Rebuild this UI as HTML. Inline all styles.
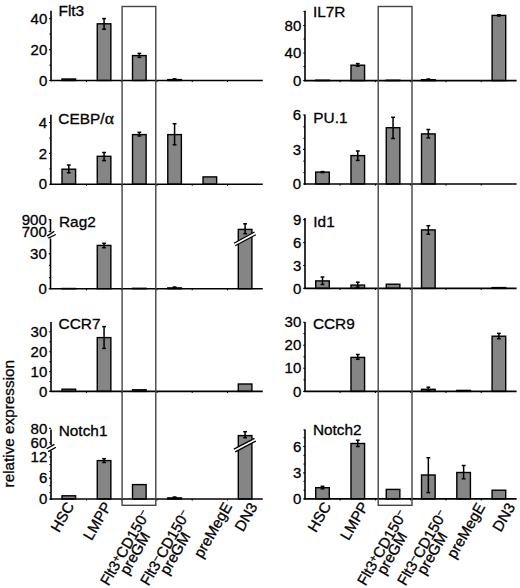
<!DOCTYPE html><html><head><meta charset="utf-8"><style>html,body{margin:0;padding:0;background:#fff;overflow:hidden;}svg{display:block;}</style></head><body>
<svg width="520" height="588" viewBox="0 0 520 588" font-family='"Liberation Sans", sans-serif'>
<style>text{stroke:#000;stroke-width:0.3;paint-order:stroke;}</style>
<rect width="520" height="588" fill="#fff"/>
<rect x="62.00" y="79.00" width="13.60" height="1.50" fill="#858585" stroke="#000" stroke-width="1.4"/>
<rect x="97.26" y="23.80" width="13.60" height="56.70" fill="#858585" stroke="#000" stroke-width="1.4"/>
<line x1="104.06" y1="18.60" x2="104.06" y2="29.20" stroke="#000" stroke-width="1.5"/>
<line x1="102.16" y1="18.60" x2="105.96" y2="18.60" stroke="#000" stroke-width="1.5"/>
<line x1="102.16" y1="29.20" x2="105.96" y2="29.20" stroke="#000" stroke-width="1.5"/>
<rect x="132.52" y="55.60" width="13.60" height="24.90" fill="#858585" stroke="#000" stroke-width="1.4"/>
<line x1="139.32" y1="53.40" x2="139.32" y2="57.40" stroke="#000" stroke-width="1.5"/>
<line x1="137.42" y1="53.40" x2="141.22" y2="53.40" stroke="#000" stroke-width="1.5"/>
<line x1="137.42" y1="57.40" x2="141.22" y2="57.40" stroke="#000" stroke-width="1.5"/>
<rect x="167.78" y="79.60" width="13.60" height="0.90" fill="#858585" stroke="#000" stroke-width="1.4"/>
<line x1="174.58" y1="78.80" x2="174.58" y2="79.80" stroke="#000" stroke-width="1.5"/>
<line x1="172.68" y1="78.80" x2="176.48" y2="78.80" stroke="#000" stroke-width="1.5"/>
<line x1="172.68" y1="79.80" x2="176.48" y2="79.80" stroke="#000" stroke-width="1.5"/>
<line x1="51.00" y1="10.80" x2="51.00" y2="81.20" stroke="#000" stroke-width="1.6"/>
<line x1="50.30" y1="80.50" x2="262.80" y2="80.50" stroke="#000" stroke-width="1.6"/>
<line x1="49.20" y1="18.60" x2="51.00" y2="18.60" stroke="#000" stroke-width="1.1"/>
<text x="47.30" y="23.70" font-size="15" text-anchor="end">40</text>
<line x1="49.20" y1="49.60" x2="51.00" y2="49.60" stroke="#000" stroke-width="1.1"/>
<text x="47.30" y="54.70" font-size="15" text-anchor="end">20</text>
<line x1="49.20" y1="80.50" x2="51.00" y2="80.50" stroke="#000" stroke-width="1.1"/>
<text x="47.30" y="85.60" font-size="15" text-anchor="end">0</text>
<line x1="49.40" y1="34.10" x2="51.00" y2="34.10" stroke="#000" stroke-width="1.0"/>
<line x1="49.40" y1="65.10" x2="51.00" y2="65.10" stroke="#000" stroke-width="1.0"/>
<line x1="86.43" y1="80.50" x2="86.43" y2="82.10" stroke="#000" stroke-width="1.0"/>
<line x1="121.69" y1="80.50" x2="121.69" y2="82.10" stroke="#000" stroke-width="1.0"/>
<line x1="156.95" y1="80.50" x2="156.95" y2="82.10" stroke="#000" stroke-width="1.0"/>
<line x1="192.21" y1="80.50" x2="192.21" y2="82.10" stroke="#000" stroke-width="1.0"/>
<line x1="227.47" y1="80.50" x2="227.47" y2="82.10" stroke="#000" stroke-width="1.0"/>
<text x="58.50" y="16.30" font-size="15.4">Flt3</text>
<rect x="62.00" y="169.20" width="13.60" height="15.00" fill="#858585" stroke="#000" stroke-width="1.4"/>
<line x1="68.80" y1="165.00" x2="68.80" y2="172.80" stroke="#000" stroke-width="1.5"/>
<line x1="66.90" y1="165.00" x2="70.70" y2="165.00" stroke="#000" stroke-width="1.5"/>
<line x1="66.90" y1="172.80" x2="70.70" y2="172.80" stroke="#000" stroke-width="1.5"/>
<rect x="97.26" y="156.30" width="13.60" height="27.90" fill="#858585" stroke="#000" stroke-width="1.4"/>
<line x1="104.06" y1="152.50" x2="104.06" y2="160.60" stroke="#000" stroke-width="1.5"/>
<line x1="102.16" y1="152.50" x2="105.96" y2="152.50" stroke="#000" stroke-width="1.5"/>
<line x1="102.16" y1="160.60" x2="105.96" y2="160.60" stroke="#000" stroke-width="1.5"/>
<rect x="132.52" y="134.60" width="13.60" height="49.60" fill="#858585" stroke="#000" stroke-width="1.4"/>
<line x1="139.32" y1="132.30" x2="139.32" y2="136.00" stroke="#000" stroke-width="1.5"/>
<line x1="137.42" y1="132.30" x2="141.22" y2="132.30" stroke="#000" stroke-width="1.5"/>
<line x1="137.42" y1="136.00" x2="141.22" y2="136.00" stroke="#000" stroke-width="1.5"/>
<rect x="167.78" y="134.60" width="13.60" height="49.60" fill="#858585" stroke="#000" stroke-width="1.4"/>
<line x1="174.58" y1="123.70" x2="174.58" y2="144.80" stroke="#000" stroke-width="1.5"/>
<line x1="172.68" y1="123.70" x2="176.48" y2="123.70" stroke="#000" stroke-width="1.5"/>
<line x1="172.68" y1="144.80" x2="176.48" y2="144.80" stroke="#000" stroke-width="1.5"/>
<rect x="203.04" y="176.90" width="13.60" height="7.30" fill="#858585" stroke="#000" stroke-width="1.4"/>
<line x1="50.90" y1="114.80" x2="50.90" y2="184.90" stroke="#000" stroke-width="1.6"/>
<line x1="50.20" y1="184.20" x2="262.80" y2="184.20" stroke="#000" stroke-width="1.6"/>
<line x1="49.10" y1="122.50" x2="50.90" y2="122.50" stroke="#000" stroke-width="1.1"/>
<text x="47.20" y="127.60" font-size="15" text-anchor="end">4</text>
<line x1="49.10" y1="153.40" x2="50.90" y2="153.40" stroke="#000" stroke-width="1.1"/>
<text x="47.20" y="158.50" font-size="15" text-anchor="end">2</text>
<line x1="49.10" y1="184.20" x2="50.90" y2="184.20" stroke="#000" stroke-width="1.1"/>
<text x="47.20" y="189.30" font-size="15" text-anchor="end">0</text>
<line x1="49.30" y1="138.00" x2="50.90" y2="138.00" stroke="#000" stroke-width="1.0"/>
<line x1="49.30" y1="168.90" x2="50.90" y2="168.90" stroke="#000" stroke-width="1.0"/>
<line x1="86.43" y1="184.20" x2="86.43" y2="185.80" stroke="#000" stroke-width="1.0"/>
<line x1="121.69" y1="184.20" x2="121.69" y2="185.80" stroke="#000" stroke-width="1.0"/>
<line x1="156.95" y1="184.20" x2="156.95" y2="185.80" stroke="#000" stroke-width="1.0"/>
<line x1="192.21" y1="184.20" x2="192.21" y2="185.80" stroke="#000" stroke-width="1.0"/>
<line x1="227.47" y1="184.20" x2="227.47" y2="185.80" stroke="#000" stroke-width="1.0"/>
<text x="58.30" y="124.30" font-size="15.4">CEBP/<tspan font-family="Liberation Serif" font-size="17.5" dx="0.2">α</tspan></text>
<rect x="62.00" y="288.50" width="13.60" height="0.30" fill="#858585" stroke="#000" stroke-width="1.4"/>
<rect x="97.26" y="245.40" width="13.60" height="43.30" fill="#858585" stroke="#000" stroke-width="1.4"/>
<line x1="104.06" y1="243.30" x2="104.06" y2="247.70" stroke="#000" stroke-width="1.5"/>
<line x1="102.16" y1="243.30" x2="105.96" y2="243.30" stroke="#000" stroke-width="1.5"/>
<line x1="102.16" y1="247.70" x2="105.96" y2="247.70" stroke="#000" stroke-width="1.5"/>
<rect x="132.52" y="288.30" width="13.60" height="0.40" fill="#858585" stroke="#000" stroke-width="1.4"/>
<rect x="167.78" y="287.90" width="13.60" height="0.80" fill="#858585" stroke="#000" stroke-width="1.4"/>
<line x1="174.58" y1="287.00" x2="174.58" y2="288.00" stroke="#000" stroke-width="1.5"/>
<line x1="172.68" y1="287.00" x2="176.48" y2="287.00" stroke="#000" stroke-width="1.5"/>
<line x1="172.68" y1="288.00" x2="176.48" y2="288.00" stroke="#000" stroke-width="1.5"/>
<rect x="238.30" y="229.40" width="13.60" height="59.30" fill="#858585" stroke="#000" stroke-width="1.4"/>
<line x1="245.10" y1="223.80" x2="245.10" y2="233.70" stroke="#000" stroke-width="1.5"/>
<line x1="243.20" y1="223.80" x2="247.00" y2="223.80" stroke="#000" stroke-width="1.5"/>
<line x1="243.20" y1="233.70" x2="247.00" y2="233.70" stroke="#000" stroke-width="1.5"/>
<polygon points="233.90,243.20 254.50,232.05 255.80,234.70 235.20,245.80" fill="#fff"/>
<line x1="233.90" y1="243.20" x2="254.50" y2="232.05" stroke="#000" stroke-width="1.3"/>
<line x1="235.20" y1="245.80" x2="255.80" y2="234.70" stroke="#000" stroke-width="1.3"/>
<line x1="50.50" y1="219.20" x2="50.50" y2="232.20" stroke="#000" stroke-width="1.6"/>
<line x1="50.50" y1="238.50" x2="50.50" y2="289.40" stroke="#000" stroke-width="1.6"/>
<line x1="47.10" y1="236.10" x2="54.30" y2="231.30" stroke="#000" stroke-width="1.3"/>
<line x1="48.30" y1="238.20" x2="55.80" y2="234.50" stroke="#000" stroke-width="1.3"/>
<line x1="49.80" y1="288.70" x2="262.80" y2="288.70" stroke="#000" stroke-width="1.6"/>
<line x1="48.70" y1="253.80" x2="50.50" y2="253.80" stroke="#000" stroke-width="1.1"/>
<text x="46.80" y="258.90" font-size="15" text-anchor="end">30</text>
<line x1="48.70" y1="288.70" x2="50.50" y2="288.70" stroke="#000" stroke-width="1.1"/>
<text x="46.80" y="293.80" font-size="15" text-anchor="end">0</text>
<line x1="48.70" y1="219.60" x2="50.50" y2="219.60" stroke="#000" stroke-width="1.1"/>
<text x="46.80" y="224.70" font-size="15" text-anchor="end">900</text>
<line x1="48.70" y1="231.60" x2="50.50" y2="231.60" stroke="#000" stroke-width="1.1"/>
<text x="46.80" y="236.70" font-size="15" text-anchor="end">700</text>
<line x1="48.90" y1="265.40" x2="50.50" y2="265.40" stroke="#000" stroke-width="1.0"/>
<line x1="48.90" y1="277.60" x2="50.50" y2="277.60" stroke="#000" stroke-width="1.0"/>
<line x1="86.43" y1="288.70" x2="86.43" y2="290.30" stroke="#000" stroke-width="1.0"/>
<line x1="121.69" y1="288.70" x2="121.69" y2="290.30" stroke="#000" stroke-width="1.0"/>
<line x1="156.95" y1="288.70" x2="156.95" y2="290.30" stroke="#000" stroke-width="1.0"/>
<line x1="192.21" y1="288.70" x2="192.21" y2="290.30" stroke="#000" stroke-width="1.0"/>
<line x1="227.47" y1="288.70" x2="227.47" y2="290.30" stroke="#000" stroke-width="1.0"/>
<text x="59.00" y="227.00" font-size="15.4">Rag2</text>
<rect x="62.00" y="389.20" width="13.60" height="2.20" fill="#858585" stroke="#000" stroke-width="1.4"/>
<rect x="97.26" y="337.60" width="13.60" height="53.80" fill="#858585" stroke="#000" stroke-width="1.4"/>
<line x1="104.06" y1="326.60" x2="104.06" y2="348.40" stroke="#000" stroke-width="1.5"/>
<line x1="102.16" y1="326.60" x2="105.96" y2="326.60" stroke="#000" stroke-width="1.5"/>
<line x1="102.16" y1="348.40" x2="105.96" y2="348.40" stroke="#000" stroke-width="1.5"/>
<rect x="132.52" y="389.80" width="13.60" height="1.60" fill="#858585" stroke="#000" stroke-width="1.4"/>
<rect x="238.30" y="384.00" width="13.60" height="7.40" fill="#858585" stroke="#000" stroke-width="1.4"/>
<line x1="51.00" y1="322.00" x2="51.00" y2="392.10" stroke="#000" stroke-width="1.6"/>
<line x1="50.30" y1="391.40" x2="262.80" y2="391.40" stroke="#000" stroke-width="1.6"/>
<line x1="49.20" y1="331.80" x2="51.00" y2="331.80" stroke="#000" stroke-width="1.1"/>
<text x="47.30" y="336.90" font-size="15" text-anchor="end">30</text>
<line x1="49.20" y1="351.70" x2="51.00" y2="351.70" stroke="#000" stroke-width="1.1"/>
<text x="47.30" y="356.80" font-size="15" text-anchor="end">20</text>
<line x1="49.20" y1="371.60" x2="51.00" y2="371.60" stroke="#000" stroke-width="1.1"/>
<text x="47.30" y="376.70" font-size="15" text-anchor="end">10</text>
<line x1="49.20" y1="391.40" x2="51.00" y2="391.40" stroke="#000" stroke-width="1.1"/>
<text x="47.30" y="396.50" font-size="15" text-anchor="end">0</text>
<line x1="49.40" y1="341.80" x2="51.00" y2="341.80" stroke="#000" stroke-width="1.0"/>
<line x1="49.40" y1="361.70" x2="51.00" y2="361.70" stroke="#000" stroke-width="1.0"/>
<line x1="49.40" y1="381.50" x2="51.00" y2="381.50" stroke="#000" stroke-width="1.0"/>
<line x1="86.43" y1="391.40" x2="86.43" y2="393.00" stroke="#000" stroke-width="1.0"/>
<line x1="121.69" y1="391.40" x2="121.69" y2="393.00" stroke="#000" stroke-width="1.0"/>
<line x1="156.95" y1="391.40" x2="156.95" y2="393.00" stroke="#000" stroke-width="1.0"/>
<line x1="192.21" y1="391.40" x2="192.21" y2="393.00" stroke="#000" stroke-width="1.0"/>
<line x1="227.47" y1="391.40" x2="227.47" y2="393.00" stroke="#000" stroke-width="1.0"/>
<text x="58.60" y="329.40" font-size="15.4">CCR7</text>
<rect x="62.00" y="495.80" width="13.60" height="3.20" fill="#858585" stroke="#000" stroke-width="1.4"/>
<rect x="97.26" y="460.60" width="13.60" height="38.40" fill="#858585" stroke="#000" stroke-width="1.4"/>
<line x1="104.06" y1="458.70" x2="104.06" y2="462.50" stroke="#000" stroke-width="1.5"/>
<line x1="102.16" y1="458.70" x2="105.96" y2="458.70" stroke="#000" stroke-width="1.5"/>
<line x1="102.16" y1="462.50" x2="105.96" y2="462.50" stroke="#000" stroke-width="1.5"/>
<rect x="132.52" y="484.60" width="13.60" height="14.40" fill="#858585" stroke="#000" stroke-width="1.4"/>
<rect x="167.78" y="497.90" width="13.60" height="1.10" fill="#858585" stroke="#000" stroke-width="1.4"/>
<line x1="174.58" y1="497.00" x2="174.58" y2="498.00" stroke="#000" stroke-width="1.5"/>
<line x1="172.68" y1="497.00" x2="176.48" y2="497.00" stroke="#000" stroke-width="1.5"/>
<line x1="172.68" y1="498.00" x2="176.48" y2="498.00" stroke="#000" stroke-width="1.5"/>
<rect x="238.30" y="435.60" width="13.60" height="63.40" fill="#858585" stroke="#000" stroke-width="1.4"/>
<line x1="245.10" y1="431.70" x2="245.10" y2="437.70" stroke="#000" stroke-width="1.5"/>
<line x1="243.20" y1="431.70" x2="247.00" y2="431.70" stroke="#000" stroke-width="1.5"/>
<line x1="243.20" y1="437.70" x2="247.00" y2="437.70" stroke="#000" stroke-width="1.5"/>
<polygon points="233.90,449.20 254.50,438.40 255.80,441.10 235.20,451.80" fill="#fff"/>
<line x1="233.90" y1="449.20" x2="254.50" y2="438.40" stroke="#000" stroke-width="1.3"/>
<line x1="235.20" y1="451.80" x2="255.80" y2="441.10" stroke="#000" stroke-width="1.3"/>
<line x1="51.00" y1="429.60" x2="51.00" y2="444.90" stroke="#000" stroke-width="1.6"/>
<line x1="51.00" y1="450.80" x2="51.00" y2="499.70" stroke="#000" stroke-width="1.6"/>
<line x1="46.70" y1="448.80" x2="54.40" y2="444.40" stroke="#000" stroke-width="1.3"/>
<line x1="48.20" y1="451.60" x2="55.90" y2="447.20" stroke="#000" stroke-width="1.3"/>
<line x1="50.30" y1="499.00" x2="262.80" y2="499.00" stroke="#000" stroke-width="1.6"/>
<line x1="49.20" y1="457.00" x2="51.00" y2="457.00" stroke="#000" stroke-width="1.1"/>
<text x="47.30" y="462.10" font-size="15" text-anchor="end">12</text>
<line x1="49.20" y1="478.00" x2="51.00" y2="478.00" stroke="#000" stroke-width="1.1"/>
<text x="47.30" y="483.10" font-size="15" text-anchor="end">6</text>
<line x1="49.20" y1="499.00" x2="51.00" y2="499.00" stroke="#000" stroke-width="1.1"/>
<text x="47.30" y="504.10" font-size="15" text-anchor="end">0</text>
<line x1="49.20" y1="428.40" x2="51.00" y2="428.40" stroke="#000" stroke-width="1.1"/>
<text x="47.30" y="433.50" font-size="15" text-anchor="end">80</text>
<line x1="49.20" y1="442.70" x2="51.00" y2="442.70" stroke="#000" stroke-width="1.1"/>
<text x="47.30" y="447.80" font-size="15" text-anchor="end">60</text>
<line x1="49.40" y1="471.50" x2="51.00" y2="471.50" stroke="#000" stroke-width="1.0"/>
<line x1="49.40" y1="478.60" x2="51.00" y2="478.60" stroke="#000" stroke-width="1.0"/>
<line x1="49.40" y1="485.60" x2="51.00" y2="485.60" stroke="#000" stroke-width="1.0"/>
<line x1="49.40" y1="492.60" x2="51.00" y2="492.60" stroke="#000" stroke-width="1.0"/>
<line x1="49.40" y1="464.50" x2="51.00" y2="464.50" stroke="#000" stroke-width="1.0"/>
<line x1="86.43" y1="499.00" x2="86.43" y2="500.60" stroke="#000" stroke-width="1.0"/>
<line x1="121.69" y1="499.00" x2="121.69" y2="500.60" stroke="#000" stroke-width="1.0"/>
<line x1="156.95" y1="499.00" x2="156.95" y2="500.60" stroke="#000" stroke-width="1.0"/>
<line x1="192.21" y1="499.00" x2="192.21" y2="500.60" stroke="#000" stroke-width="1.0"/>
<line x1="227.47" y1="499.00" x2="227.47" y2="500.60" stroke="#000" stroke-width="1.0"/>
<text x="58.70" y="435.50" font-size="15.4">Notch1</text>
<rect x="315.70" y="80.20" width="13.60" height="0.40" fill="#858585" stroke="#000" stroke-width="1.4"/>
<rect x="350.98" y="65.20" width="13.60" height="15.40" fill="#858585" stroke="#000" stroke-width="1.4"/>
<line x1="357.78" y1="63.60" x2="357.78" y2="66.20" stroke="#000" stroke-width="1.5"/>
<line x1="355.88" y1="63.60" x2="359.68" y2="63.60" stroke="#000" stroke-width="1.5"/>
<line x1="355.88" y1="66.20" x2="359.68" y2="66.20" stroke="#000" stroke-width="1.5"/>
<rect x="386.26" y="80.20" width="13.60" height="0.40" fill="#858585" stroke="#000" stroke-width="1.4"/>
<rect x="421.54" y="79.70" width="13.60" height="0.90" fill="#858585" stroke="#000" stroke-width="1.4"/>
<line x1="428.34" y1="79.00" x2="428.34" y2="79.90" stroke="#000" stroke-width="1.5"/>
<line x1="426.44" y1="79.00" x2="430.24" y2="79.00" stroke="#000" stroke-width="1.5"/>
<line x1="426.44" y1="79.90" x2="430.24" y2="79.90" stroke="#000" stroke-width="1.5"/>
<rect x="492.10" y="15.40" width="13.60" height="65.20" fill="#858585" stroke="#000" stroke-width="1.4"/>
<line x1="498.90" y1="14.80" x2="498.90" y2="16.00" stroke="#000" stroke-width="1.5"/>
<line x1="497.00" y1="14.80" x2="500.80" y2="14.80" stroke="#000" stroke-width="1.5"/>
<line x1="497.00" y1="16.00" x2="500.80" y2="16.00" stroke="#000" stroke-width="1.5"/>
<line x1="305.00" y1="10.80" x2="305.00" y2="81.30" stroke="#000" stroke-width="1.6"/>
<line x1="304.30" y1="80.60" x2="516.60" y2="80.60" stroke="#000" stroke-width="1.6"/>
<line x1="303.20" y1="25.50" x2="305.00" y2="25.50" stroke="#000" stroke-width="1.1"/>
<text x="301.30" y="30.60" font-size="15" text-anchor="end">80</text>
<line x1="303.20" y1="53.00" x2="305.00" y2="53.00" stroke="#000" stroke-width="1.1"/>
<text x="301.30" y="58.10" font-size="15" text-anchor="end">40</text>
<line x1="303.20" y1="80.60" x2="305.00" y2="80.60" stroke="#000" stroke-width="1.1"/>
<text x="301.30" y="85.70" font-size="15" text-anchor="end">0</text>
<line x1="303.40" y1="66.50" x2="305.00" y2="66.50" stroke="#000" stroke-width="1.0"/>
<line x1="303.40" y1="39.00" x2="305.00" y2="39.00" stroke="#000" stroke-width="1.0"/>
<line x1="303.40" y1="11.60" x2="305.00" y2="11.60" stroke="#000" stroke-width="1.0"/>
<line x1="340.14" y1="80.60" x2="340.14" y2="82.20" stroke="#000" stroke-width="1.0"/>
<line x1="375.42" y1="80.60" x2="375.42" y2="82.20" stroke="#000" stroke-width="1.0"/>
<line x1="410.70" y1="80.60" x2="410.70" y2="82.20" stroke="#000" stroke-width="1.0"/>
<line x1="445.98" y1="80.60" x2="445.98" y2="82.20" stroke="#000" stroke-width="1.0"/>
<line x1="481.26" y1="80.60" x2="481.26" y2="82.20" stroke="#000" stroke-width="1.0"/>
<text x="312.90" y="17.00" font-size="15.4">IL7R</text>
<rect x="315.70" y="172.10" width="13.60" height="11.90" fill="#858585" stroke="#000" stroke-width="1.4"/>
<line x1="322.50" y1="171.60" x2="322.50" y2="172.60" stroke="#000" stroke-width="1.5"/>
<line x1="320.60" y1="171.60" x2="324.40" y2="171.60" stroke="#000" stroke-width="1.5"/>
<line x1="320.60" y1="172.60" x2="324.40" y2="172.60" stroke="#000" stroke-width="1.5"/>
<rect x="350.98" y="155.60" width="13.60" height="28.40" fill="#858585" stroke="#000" stroke-width="1.4"/>
<line x1="357.78" y1="151.00" x2="357.78" y2="160.40" stroke="#000" stroke-width="1.5"/>
<line x1="355.88" y1="151.00" x2="359.68" y2="151.00" stroke="#000" stroke-width="1.5"/>
<line x1="355.88" y1="160.40" x2="359.68" y2="160.40" stroke="#000" stroke-width="1.5"/>
<rect x="386.26" y="127.70" width="13.60" height="56.30" fill="#858585" stroke="#000" stroke-width="1.4"/>
<line x1="393.06" y1="117.30" x2="393.06" y2="138.50" stroke="#000" stroke-width="1.5"/>
<line x1="391.16" y1="117.30" x2="394.96" y2="117.30" stroke="#000" stroke-width="1.5"/>
<line x1="391.16" y1="138.50" x2="394.96" y2="138.50" stroke="#000" stroke-width="1.5"/>
<rect x="421.54" y="133.90" width="13.60" height="50.10" fill="#858585" stroke="#000" stroke-width="1.4"/>
<line x1="428.34" y1="129.50" x2="428.34" y2="137.90" stroke="#000" stroke-width="1.5"/>
<line x1="426.44" y1="129.50" x2="430.24" y2="129.50" stroke="#000" stroke-width="1.5"/>
<line x1="426.44" y1="137.90" x2="430.24" y2="137.90" stroke="#000" stroke-width="1.5"/>
<line x1="304.90" y1="114.50" x2="304.90" y2="184.70" stroke="#000" stroke-width="1.6"/>
<line x1="304.20" y1="184.00" x2="516.60" y2="184.00" stroke="#000" stroke-width="1.6"/>
<line x1="303.10" y1="115.00" x2="304.90" y2="115.00" stroke="#000" stroke-width="1.1"/>
<text x="301.20" y="120.10" font-size="15" text-anchor="end">6</text>
<line x1="303.10" y1="149.40" x2="304.90" y2="149.40" stroke="#000" stroke-width="1.1"/>
<text x="301.20" y="154.50" font-size="15" text-anchor="end">3</text>
<line x1="303.10" y1="184.00" x2="304.90" y2="184.00" stroke="#000" stroke-width="1.1"/>
<text x="301.20" y="189.10" font-size="15" text-anchor="end">0</text>
<line x1="303.30" y1="172.60" x2="304.90" y2="172.60" stroke="#000" stroke-width="1.0"/>
<line x1="303.30" y1="161.10" x2="304.90" y2="161.10" stroke="#000" stroke-width="1.0"/>
<line x1="303.30" y1="138.30" x2="304.90" y2="138.30" stroke="#000" stroke-width="1.0"/>
<line x1="303.30" y1="126.80" x2="304.90" y2="126.80" stroke="#000" stroke-width="1.0"/>
<line x1="340.14" y1="184.00" x2="340.14" y2="185.60" stroke="#000" stroke-width="1.0"/>
<line x1="375.42" y1="184.00" x2="375.42" y2="185.60" stroke="#000" stroke-width="1.0"/>
<line x1="410.70" y1="184.00" x2="410.70" y2="185.60" stroke="#000" stroke-width="1.0"/>
<line x1="445.98" y1="184.00" x2="445.98" y2="185.60" stroke="#000" stroke-width="1.0"/>
<line x1="481.26" y1="184.00" x2="481.26" y2="185.60" stroke="#000" stroke-width="1.0"/>
<text x="313.30" y="123.20" font-size="15.4">PU.1</text>
<rect x="315.70" y="280.90" width="13.60" height="7.50" fill="#858585" stroke="#000" stroke-width="1.4"/>
<line x1="322.50" y1="277.00" x2="322.50" y2="284.50" stroke="#000" stroke-width="1.5"/>
<line x1="320.60" y1="277.00" x2="324.40" y2="277.00" stroke="#000" stroke-width="1.5"/>
<line x1="320.60" y1="284.50" x2="324.40" y2="284.50" stroke="#000" stroke-width="1.5"/>
<rect x="350.98" y="285.10" width="13.60" height="3.30" fill="#858585" stroke="#000" stroke-width="1.4"/>
<line x1="357.78" y1="282.20" x2="357.78" y2="287.20" stroke="#000" stroke-width="1.5"/>
<line x1="355.88" y1="282.20" x2="359.68" y2="282.20" stroke="#000" stroke-width="1.5"/>
<line x1="355.88" y1="287.20" x2="359.68" y2="287.20" stroke="#000" stroke-width="1.5"/>
<rect x="386.26" y="284.20" width="13.60" height="4.20" fill="#858585" stroke="#000" stroke-width="1.4"/>
<rect x="421.54" y="229.90" width="13.60" height="58.50" fill="#858585" stroke="#000" stroke-width="1.4"/>
<line x1="428.34" y1="225.70" x2="428.34" y2="234.20" stroke="#000" stroke-width="1.5"/>
<line x1="426.44" y1="225.70" x2="430.24" y2="225.70" stroke="#000" stroke-width="1.5"/>
<line x1="426.44" y1="234.20" x2="430.24" y2="234.20" stroke="#000" stroke-width="1.5"/>
<rect x="492.10" y="287.60" width="13.60" height="0.80" fill="#858585" stroke="#000" stroke-width="1.4"/>
<line x1="305.00" y1="218.00" x2="305.00" y2="289.10" stroke="#000" stroke-width="1.6"/>
<line x1="304.30" y1="288.40" x2="516.60" y2="288.40" stroke="#000" stroke-width="1.6"/>
<line x1="303.20" y1="219.60" x2="305.00" y2="219.60" stroke="#000" stroke-width="1.1"/>
<text x="301.30" y="224.70" font-size="15" text-anchor="end">9</text>
<line x1="303.20" y1="242.60" x2="305.00" y2="242.60" stroke="#000" stroke-width="1.1"/>
<text x="301.30" y="247.70" font-size="15" text-anchor="end">6</text>
<line x1="303.20" y1="265.50" x2="305.00" y2="265.50" stroke="#000" stroke-width="1.1"/>
<text x="301.30" y="270.60" font-size="15" text-anchor="end">3</text>
<line x1="303.20" y1="288.40" x2="305.00" y2="288.40" stroke="#000" stroke-width="1.1"/>
<text x="301.30" y="293.50" font-size="15" text-anchor="end">0</text>
<line x1="340.14" y1="288.40" x2="340.14" y2="290.00" stroke="#000" stroke-width="1.0"/>
<line x1="375.42" y1="288.40" x2="375.42" y2="290.00" stroke="#000" stroke-width="1.0"/>
<line x1="410.70" y1="288.40" x2="410.70" y2="290.00" stroke="#000" stroke-width="1.0"/>
<line x1="445.98" y1="288.40" x2="445.98" y2="290.00" stroke="#000" stroke-width="1.0"/>
<line x1="481.26" y1="288.40" x2="481.26" y2="290.00" stroke="#000" stroke-width="1.0"/>
<text x="313.30" y="226.80" font-size="15.4">Id1</text>
<rect x="350.98" y="357.40" width="13.60" height="34.00" fill="#858585" stroke="#000" stroke-width="1.4"/>
<line x1="357.78" y1="354.50" x2="357.78" y2="359.30" stroke="#000" stroke-width="1.5"/>
<line x1="355.88" y1="354.50" x2="359.68" y2="354.50" stroke="#000" stroke-width="1.5"/>
<line x1="355.88" y1="359.30" x2="359.68" y2="359.30" stroke="#000" stroke-width="1.5"/>
<rect x="421.54" y="389.30" width="13.60" height="2.10" fill="#858585" stroke="#000" stroke-width="1.4"/>
<line x1="428.34" y1="387.20" x2="428.34" y2="391.00" stroke="#000" stroke-width="1.5"/>
<line x1="426.44" y1="387.20" x2="430.24" y2="387.20" stroke="#000" stroke-width="1.5"/>
<line x1="426.44" y1="391.00" x2="430.24" y2="391.00" stroke="#000" stroke-width="1.5"/>
<rect x="456.82" y="390.40" width="13.60" height="1.00" fill="#858585" stroke="#000" stroke-width="1.4"/>
<rect x="492.10" y="336.20" width="13.60" height="55.20" fill="#858585" stroke="#000" stroke-width="1.4"/>
<line x1="498.90" y1="333.40" x2="498.90" y2="338.70" stroke="#000" stroke-width="1.5"/>
<line x1="497.00" y1="333.40" x2="500.80" y2="333.40" stroke="#000" stroke-width="1.5"/>
<line x1="497.00" y1="338.70" x2="500.80" y2="338.70" stroke="#000" stroke-width="1.5"/>
<line x1="305.00" y1="322.00" x2="305.00" y2="392.10" stroke="#000" stroke-width="1.6"/>
<line x1="304.30" y1="391.40" x2="516.60" y2="391.40" stroke="#000" stroke-width="1.6"/>
<line x1="303.20" y1="322.20" x2="305.00" y2="322.20" stroke="#000" stroke-width="1.1"/>
<text x="301.30" y="327.30" font-size="15" text-anchor="end">30</text>
<line x1="303.20" y1="345.30" x2="305.00" y2="345.30" stroke="#000" stroke-width="1.1"/>
<text x="301.30" y="350.40" font-size="15" text-anchor="end">20</text>
<line x1="303.20" y1="368.30" x2="305.00" y2="368.30" stroke="#000" stroke-width="1.1"/>
<text x="301.30" y="373.40" font-size="15" text-anchor="end">10</text>
<line x1="303.20" y1="391.40" x2="305.00" y2="391.40" stroke="#000" stroke-width="1.1"/>
<text x="301.30" y="396.50" font-size="15" text-anchor="end">0</text>
<line x1="303.40" y1="333.60" x2="305.00" y2="333.60" stroke="#000" stroke-width="1.0"/>
<line x1="303.40" y1="356.80" x2="305.00" y2="356.80" stroke="#000" stroke-width="1.0"/>
<line x1="303.40" y1="379.80" x2="305.00" y2="379.80" stroke="#000" stroke-width="1.0"/>
<line x1="340.14" y1="391.40" x2="340.14" y2="393.00" stroke="#000" stroke-width="1.0"/>
<line x1="375.42" y1="391.40" x2="375.42" y2="393.00" stroke="#000" stroke-width="1.0"/>
<line x1="410.70" y1="391.40" x2="410.70" y2="393.00" stroke="#000" stroke-width="1.0"/>
<line x1="445.98" y1="391.40" x2="445.98" y2="393.00" stroke="#000" stroke-width="1.0"/>
<line x1="481.26" y1="391.40" x2="481.26" y2="393.00" stroke="#000" stroke-width="1.0"/>
<text x="312.90" y="329.40" font-size="15.4">CCR9</text>
<rect x="315.70" y="487.70" width="13.60" height="11.20" fill="#858585" stroke="#000" stroke-width="1.4"/>
<line x1="322.50" y1="486.30" x2="322.50" y2="488.80" stroke="#000" stroke-width="1.5"/>
<line x1="320.60" y1="486.30" x2="324.40" y2="486.30" stroke="#000" stroke-width="1.5"/>
<line x1="320.60" y1="488.80" x2="324.40" y2="488.80" stroke="#000" stroke-width="1.5"/>
<rect x="350.98" y="443.50" width="13.60" height="55.40" fill="#858585" stroke="#000" stroke-width="1.4"/>
<line x1="357.78" y1="440.20" x2="357.78" y2="446.50" stroke="#000" stroke-width="1.5"/>
<line x1="355.88" y1="440.20" x2="359.68" y2="440.20" stroke="#000" stroke-width="1.5"/>
<line x1="355.88" y1="446.50" x2="359.68" y2="446.50" stroke="#000" stroke-width="1.5"/>
<rect x="386.26" y="489.40" width="13.60" height="9.50" fill="#858585" stroke="#000" stroke-width="1.4"/>
<rect x="421.54" y="475.00" width="13.60" height="23.90" fill="#858585" stroke="#000" stroke-width="1.4"/>
<line x1="428.34" y1="457.70" x2="428.34" y2="492.60" stroke="#000" stroke-width="1.5"/>
<line x1="426.44" y1="457.70" x2="430.24" y2="457.70" stroke="#000" stroke-width="1.5"/>
<line x1="426.44" y1="492.60" x2="430.24" y2="492.60" stroke="#000" stroke-width="1.5"/>
<rect x="456.82" y="472.50" width="13.60" height="26.40" fill="#858585" stroke="#000" stroke-width="1.4"/>
<line x1="463.62" y1="465.50" x2="463.62" y2="478.80" stroke="#000" stroke-width="1.5"/>
<line x1="461.72" y1="465.50" x2="465.52" y2="465.50" stroke="#000" stroke-width="1.5"/>
<line x1="461.72" y1="478.80" x2="465.52" y2="478.80" stroke="#000" stroke-width="1.5"/>
<rect x="492.10" y="490.20" width="13.60" height="8.70" fill="#858585" stroke="#000" stroke-width="1.4"/>
<line x1="305.00" y1="429.60" x2="305.00" y2="499.60" stroke="#000" stroke-width="1.6"/>
<line x1="304.30" y1="498.90" x2="516.60" y2="498.90" stroke="#000" stroke-width="1.6"/>
<line x1="303.20" y1="446.50" x2="305.00" y2="446.50" stroke="#000" stroke-width="1.1"/>
<text x="301.30" y="451.60" font-size="15" text-anchor="end">6</text>
<line x1="303.20" y1="472.90" x2="305.00" y2="472.90" stroke="#000" stroke-width="1.1"/>
<text x="301.30" y="478.00" font-size="15" text-anchor="end">3</text>
<line x1="303.20" y1="498.90" x2="305.00" y2="498.90" stroke="#000" stroke-width="1.1"/>
<text x="301.30" y="504.00" font-size="15" text-anchor="end">0</text>
<line x1="303.40" y1="490.10" x2="305.00" y2="490.10" stroke="#000" stroke-width="1.0"/>
<line x1="303.40" y1="481.30" x2="305.00" y2="481.30" stroke="#000" stroke-width="1.0"/>
<line x1="303.40" y1="464.10" x2="305.00" y2="464.10" stroke="#000" stroke-width="1.0"/>
<line x1="303.40" y1="455.30" x2="305.00" y2="455.30" stroke="#000" stroke-width="1.0"/>
<line x1="303.40" y1="437.70" x2="305.00" y2="437.70" stroke="#000" stroke-width="1.0"/>
<line x1="303.40" y1="429.90" x2="305.00" y2="429.90" stroke="#000" stroke-width="1.0"/>
<line x1="340.14" y1="498.90" x2="340.14" y2="500.50" stroke="#000" stroke-width="1.0"/>
<line x1="375.42" y1="498.90" x2="375.42" y2="500.50" stroke="#000" stroke-width="1.0"/>
<line x1="410.70" y1="498.90" x2="410.70" y2="500.50" stroke="#000" stroke-width="1.0"/>
<line x1="445.98" y1="498.90" x2="445.98" y2="500.50" stroke="#000" stroke-width="1.0"/>
<line x1="481.26" y1="498.90" x2="481.26" y2="500.50" stroke="#000" stroke-width="1.0"/>
<text x="312.90" y="435.20" font-size="15.4">Notch2</text>
<rect x="122.1" y="6.5" width="33.7" height="498.8" fill="none" stroke="#444" stroke-width="1.4"/>
<rect x="378.2" y="6.5" width="33.8" height="498.8" fill="none" stroke="#444" stroke-width="1.4"/>
<text transform="translate(14.3,423.7) rotate(-90)" font-size="15.3" text-anchor="middle">relative expression</text>
<text transform="translate(65.30,500.30) rotate(-60)" font-size="15" text-anchor="end" y="10.9">HSC</text>
<text transform="translate(102.50,500.30) rotate(-60)" font-size="15" text-anchor="end" y="10.9">LMPP</text>
<g transform="translate(135.70,500.00) rotate(-60)" font-size="15" text-anchor="middle">
<text x="-46.5" y="19.7">Flt3<tspan font-size="10.5" dy="-4.2">+</tspan><tspan dy="4.2">CD150</tspan><tspan font-size="10.5" dy="-4.2">−</tspan></text>
<text x="-46.5" y="31.1">preGM</text>
</g>
<g transform="translate(175.80,500.00) rotate(-60)" font-size="15" text-anchor="middle">
<text x="-46.5" y="19.7">Flt3<tspan font-size="10.5" dy="-4.2">−</tspan><tspan dy="4.2">CD150</tspan><tspan font-size="10.5" dy="-4.2">−</tspan></text>
<text x="-46.5" y="31.1">preGM</text>
</g>
<text transform="translate(223.10,500.80) rotate(-60)" font-size="15" text-anchor="end" y="10.9">preMegE</text>
<text transform="translate(248.50,501.00) rotate(-60)" font-size="15" text-anchor="end" y="10.9">DN3</text>
<text transform="translate(322.30,500.30) rotate(-60)" font-size="15" text-anchor="end" y="10.9">HSC</text>
<text transform="translate(359.50,500.30) rotate(-60)" font-size="15" text-anchor="end" y="10.9">LMPP</text>
<g transform="translate(392.70,500.00) rotate(-60)" font-size="15" text-anchor="middle">
<text x="-46.5" y="19.7">Flt3<tspan font-size="10.5" dy="-4.2">+</tspan><tspan dy="4.2">CD150</tspan><tspan font-size="10.5" dy="-4.2">−</tspan></text>
<text x="-46.5" y="31.1">preGM</text>
</g>
<g transform="translate(432.80,500.00) rotate(-60)" font-size="15" text-anchor="middle">
<text x="-46.5" y="19.7">Flt3<tspan font-size="10.5" dy="-4.2">−</tspan><tspan dy="4.2">CD150</tspan><tspan font-size="10.5" dy="-4.2">−</tspan></text>
<text x="-46.5" y="31.1">preGM</text>
</g>
<text transform="translate(476.10,501.30) rotate(-60)" font-size="15" text-anchor="end" y="10.9">preMegE</text>
<text transform="translate(506.20,501.30) rotate(-60)" font-size="15" text-anchor="end" y="10.9">DN3</text>
</svg></body></html>
